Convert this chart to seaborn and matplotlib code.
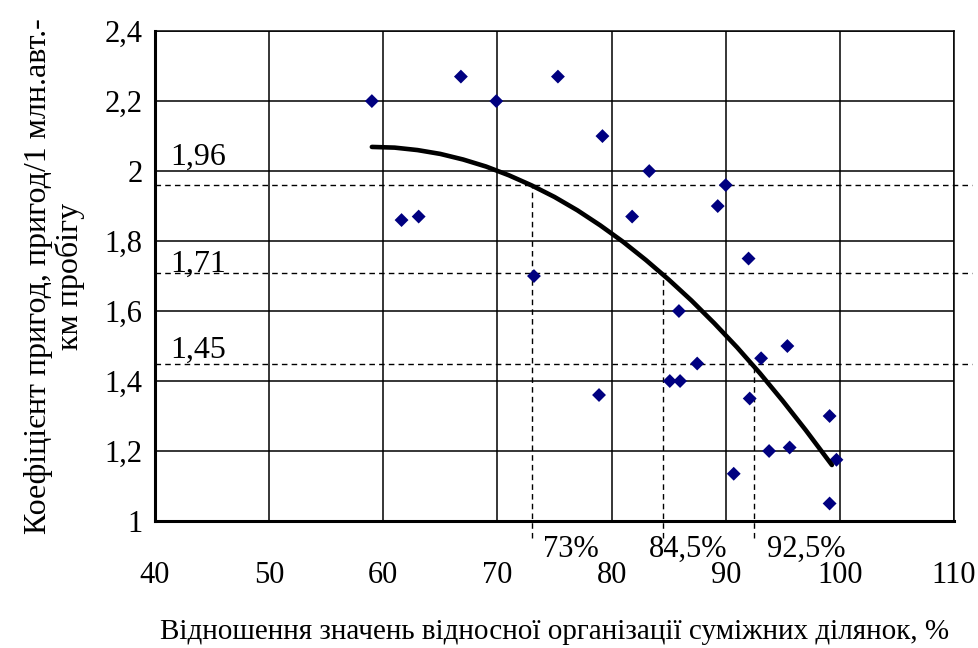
import numpy as np
import pandas as pd
import matplotlib
matplotlib.use("Agg")
import matplotlib.pyplot as plt
import seaborn as sns

# scatter points: relative organisation ratio (%) vs accident coefficient
ratio = [59.0, 61.6, 63.1, 66.8, 69.9, 73.2, 75.3, 78.9, 79.2, 81.8, 83.3,
         85.1, 85.9, 86.0, 87.5, 89.3, 90.0, 90.7, 92.0, 92.1, 93.1, 93.8,
         95.4, 95.6, 99.1, 99.1, 99.7]
coef = [2.20, 1.86, 1.87, 2.27, 2.20, 1.70, 2.27, 1.36, 2.10, 1.87, 2.00,
        1.40, 1.60, 1.40, 1.45, 1.90, 1.96, 1.135, 1.75, 1.35, 1.465, 1.20,
        1.50, 1.21, 1.30, 1.05, 1.175]

# trend curve
trend_x = [59, 61, 63, 65, 67, 69, 71, 73, 75, 77, 79, 81, 83, 85, 87, 89,
           91, 93, 95, 97, 99.3]
trend_y = [2.069, 2.067, 2.060, 2.049, 2.033, 2.013, 1.988, 1.959, 1.926,
           1.888, 1.845, 1.798, 1.746, 1.690, 1.630, 1.565, 1.496, 1.422,
           1.343, 1.260, 1.160]

# reference levels and the ratios where the trend crosses them
levels = [1.96, 1.71, 1.45]
level_labels = ["1,96", "1,71", "1,45"]
cross_x = [73.0, 84.5, 92.5]
cross_labels = ["73%", "84,5%", "92,5%"]

x_ticks = [40, 50, 60, 70, 80, 90, 100, 110]
y_ticks = [1.0, 1.2, 1.4, 1.6, 1.8, 2.0, 2.2, 2.4]
y_ticklabels = ["1", "1,2", "1,4", "1,6", "1,8", "2", "2,2", "2,4"]

sns.set_style("white")
plt.rcParams["font.family"] = ["Liberation Serif", "DejaVu Serif"]
plt.rcParams.update({"text.color": "black", "axes.labelcolor": "black",
                     "xtick.color": "black", "ytick.color": "black"})
fs = 22

pts = pd.DataFrame({"ratio": ratio, "coef": coef})
trend = pd.DataFrame({"x": trend_x, "y": trend_y})

fig = plt.figure(figsize=(9.79, 6.48), dpi=100)
ax = fig.add_axes([0.1583, 0.196, 0.8162, 0.756])

ax.set_xlim(40, 110)
ax.set_ylim(1.0, 2.4)
ax.set_xticks(x_ticks)
ax.set_yticks(y_ticks)
ax.set_yticklabels(y_ticklabels)
ax.grid(True, color="black", linewidth=1.1)
ax.set_axisbelow(True)

# dashed guide lines
for lv, lab in zip(levels, level_labels):
    ax.plot([40, 111.6], [lv, lv], color="black", linestyle=(0, (4, 3)),
            linewidth=1.0, clip_on=False, zorder=2)
for cx, lv in zip(cross_x, levels):
    ax.plot([cx, cx], [0.95, lv], color="black", linestyle=(0, (4, 3)),
            linewidth=1.0, clip_on=False, zorder=2)

sns.scatterplot(data=pts, x="ratio", y="coef", marker="D", s=50,
                color="#000080", edgecolor="none", ax=ax, zorder=4)
sns.lineplot(data=trend, x="x", y="y", color="black", linewidth=3.3,
             ax=ax, zorder=5)

ax.text(41.3, 2.017, level_labels[0], fontsize=23, va="baseline")
ax.text(41.3, 1.711, level_labels[1], fontsize=23, va="baseline")
ax.text(41.3, 1.466, level_labels[2], fontsize=23, va="baseline")

ax.text(74.0, 0.897, cross_labels[0], fontsize=fs, va="baseline", clip_on=False)
ax.text(83.3, 0.897, cross_labels[1], fontsize=fs, va="baseline", clip_on=False)
ax.text(93.6, 0.897, cross_labels[2], fontsize=fs, va="baseline", clip_on=False)

for side in ["left", "bottom"]:
    ax.spines[side].set_linewidth(2.2)
    ax.spines[side].set_color("black")
for side in ["top", "right"]:
    ax.spines[side].set_linewidth(1.1)
    ax.spines[side].set_color("black")

ax.tick_params(axis="x", direction="inout", length=8, width=2.2,
               labelsize=fs, pad=25)
ax.tick_params(axis="y", direction="out", length=6, width=2.2,
               labelsize=fs, pad=3)

ax.set_xlabel("Відношення значень відносної організації суміжних ділянок, %",
              fontsize=21, labelpad=21)
ax.set_ylabel("Коефіцієнт пригод, пригод/1 млн.авт.-\nкм пробігу",
              fontsize=23, labelpad=14, linespacing=1.1)

fig.savefig("out.png", dpi=100)
